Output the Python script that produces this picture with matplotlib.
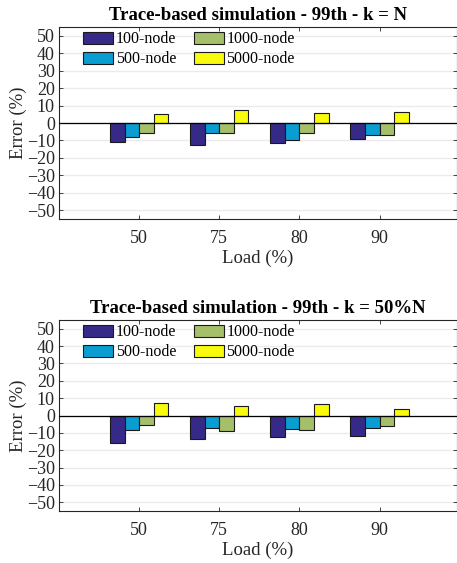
import numpy as np
import matplotlib
matplotlib.use('Agg')
import matplotlib.pyplot as plt

plt.rcParams['font.family'] = ['Liberation Serif', 'DejaVu Serif']

loads = ['50', '75', '80', '90']
series = ['100-node', '500-node', '1000-node', '5000-node']
colors = ['#352A87', '#0A9DD2', '#A5BF6A', '#F9FB0E']

# error (%) per load, one list per cluster size
err_kN = [
    [-11.0, -12.4, -11.4, -9.1],
    [-8.0, -5.7, -9.7, -6.9],
    [-5.9, -5.9, -5.9, -7.0],
    [5.0, 7.6, 5.9, 6.1],
]
err_k50 = [
    [-15.6, -13.5, -12.6, -12.0],
    [-8.6, -7.4, -8.0, -7.4],
    [-5.5, -9.2, -8.2, -6.3],
    [7.4, 5.7, 6.9, 4.0],
]
titles = ['Trace-based simulation - 99th - k = N',
          'Trace-based simulation - 99th - k = 50%N']

W, H = 457, 563
fig = plt.figure(figsize=(W / 100, H / 100), dpi=100)

# axes boxes in pixels: left, top, right, bottom
boxes = [(59, 27, 456.5, 219), (59, 320, 456.5, 511)]

x = np.arange(1, len(loads) + 1)
bw = 0.182

for box, data, title in zip(boxes, [err_kN, err_k50], titles):
    l, t, r, b = box
    ax = fig.add_axes([l / W, 1 - b / H, (r - l) / W, (b - t) / H])
    for i, (vals, name, c) in enumerate(zip(data, series, colors)):
        ax.bar(x + (i - 1.5) * bw, vals, bw, color=c, edgecolor='#1a1a1a',
               linewidth=0.8, label=name, zorder=3)
    ax.axhline(0, color='black', linewidth=0.9, zorder=4)
    ax.set_xlim(0, 4.96)
    ax.set_ylim(-55, 55)
    ax.set_yticks(np.arange(-50, 51, 10))
    ax.set_xticks(x)
    ax.set_xticklabels(loads)
    ax.yaxis.grid(True, color='#ebebeb', linewidth=1.0, zorder=0)
    ax.tick_params(direction='in', top=True, right=True, length=3,
                   width=0.6, labelsize=13, colors='#262626')
    ax.tick_params(axis='x', pad=8)
    ax.tick_params(axis='y', pad=3)
    for s in ax.spines.values():
        s.set_color('#262626')
        s.set_linewidth(0.8)
    ax.set_title(title, fontsize=13.5, fontweight='bold', pad=5)
    ax.set_xlabel('Load (%)', fontsize=13.5, color='#262626', labelpad=2)
    ax.set_ylabel('Error (%)', fontsize=13.5, color='#262626', labelpad=0)
    ax.legend(ncol=2, loc='upper left', bbox_to_anchor=(0.032, 1.036),
              frameon=False, fontsize=11.5, handlelength=1.9,
              handleheight=0.8, handletextpad=0.15, columnspacing=1.1,
              labelspacing=0.25, borderpad=0.2)

fig.savefig('out.png', dpi=100)
